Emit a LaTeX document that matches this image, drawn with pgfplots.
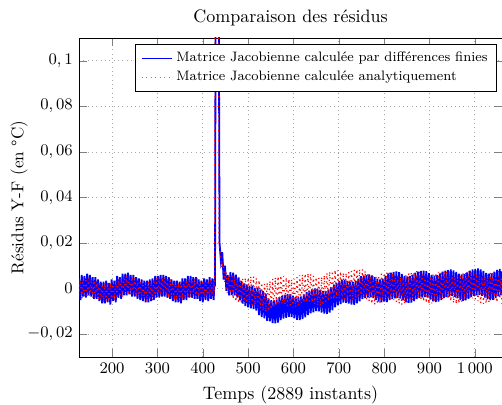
\documentclass[border=0pt]{standalone}
\usepackage{pgfplots}
\pgfplotsset{compat=1.18}

\begin{document}
\begin{tikzpicture}
\begin{axis}[
    name=ax,
    scale only axis,
    width=235pt, height=177.2pt,
    xmin=127, xmax=1060,
    ymin=-0.03, ymax=0.11,
    xtick={200,300,...,1000},
    ytick={-0.02,0,0.02,0.04,0.06,0.08,0.1},
    scaled x ticks=false, scaled y ticks=false,
    /pgf/number format/fixed,
    /pgf/number format/dec sep={,},
    /pgf/number format/1000 sep={\,},
    tick label style={font=\small},
    grid=major,
    major grid style={dotted, gray!70},
    title={Comparaison des résidus},
    title style={yshift=-3pt},
    xlabel={Temps (2889 instants)},
    ylabel={Résidus Y-F (en °C)},
    ylabel style={yshift=-7pt, font=\fontsize{9.5}{11}\selectfont},
    legend style={at={(0.988,0.98)}, anchor=north east,
        font=\fontsize{7.6}{9.2}\selectfont, draw=black, fill=white},
    legend cell align=left,
]
\addlegendimage{blue, line width=0.5pt}
\addlegendentry{Matrice Jacobienne calculée par différences finies}
\addlegendimage{red!70, dotted, line width=0.5pt}
\addlegendentry{Matrice Jacobienne calculée analytiquement}
% residus, jacobienne par differences finies
\addplot[blue, line width=1pt, forget plot] coordinates {
(127,.0045)(130,-.005)(133,.006)(136,-.0035)(139,.0055)(142,-.004)(145,.0065)(148,-.003)
(151,.006)(154,-.0035)(157,.005)(160,-.0045)(163,.005)(166,-.0045)(169,.004)(172,-.0055)
(175,.003)(178,-.0065)(181,.003)(184,-.0065)(187,.0035)(190,-.006)(193,.0025)(196,-.007)
(199,.004)(202,-.0055)(205,.0035)(208,-.006)(211,.0055)(214,-.004)(217,.005)(220,-.0045)
(223,.0065)(226,-.003)(229,.0065)(232,-.003)(235,.007)(238,-.0025)(241,.006)(244,-.0035)
(247,.006)(250,-.0035)(253,.005)(256,-.0045)(259,.0045)(262,-.005)(265,.004)(268,-.0055)
(271,.0035)(274,-.006)(277,.0035)(280,-.006)(283,.004)(286,-.0055)(289,.0045)(292,-.005)
(295,.0055)(298,-.004)(301,.0055)(304,-.004)(307,.006)(310,-.0035)(313,.006)(316,-.0035)
(319,.0055)(322,-.004)(325,.005)(328,-.0045)(331,.004)(334,-.0055)(337,.0035)(340,-.006)
(343,.0035)(346,-.006)(349,.003)(352,-.0065)(355,.0045)(358,-.005)(361,.0045)(364,-.005)
(367,.0055)(370,-.004)(373,.0055)(376,-.004)(379,.005)(382,-.0045)(385,.005)(388,-.0045)
(391,.004)(394,-.0055)(397,.0035)(400,-.006)(403,.0045)(406,-.005)(409,.004)(412,-.0055)
(415,.005)(418,-.0045)(421,.0045)(424,-.005)(426,.004)(427,.001)(431,.4)(437,.02)
(440,.012)(443,.016)(446,.004)(449,.010)(452,-.001)(455,.006)(458,-.003)
(461,.0072)(464,-.0028)(467,.007)(470,-.003)(473,.0061)(476,-.0039)(479,.0049)(482,-.0051)
(485,.0034)(488,-.0066)(491,.0023)(494,-.0077)(497,.0018)(500,-.0082)(503,.0013)(506,-.0087)
(509,.001)(512,-.009)(515,.0003)(518,-.0097)(521,.0004)(524,-.0116)(527,-.0005)(530,-.0125)
(533,-.0011)(536,-.0131)(539,-.0022)(542,-.0142)(545,-.0044)(548,-.0144)(551,-.0051)(554,-.0151)
(557,-.0052)(560,-.0152)(563,-.0049)(566,-.0149)(569,-.0038)(572,-.0138)(575,-.0032)(578,-.0132)
(581,-.0028)(584,-.0128)(587,-.0024)(590,-.0124)(593,-.0025)(596,-.0125)(599,-.0031)(602,-.0131)
(605,-.0037)(608,-.0137)(611,-.0038)(614,-.0138)(617,-.0034)(620,-.0134)(623,-.0026)(626,-.0126)
(629,-.0016)(632,-.0116)(635,-.0009)(638,-.0109)(641,-.0004)(644,-.0104)(647,.0001)(650,-.0099)
(653,0)(656,-.01)(659,-.0005)(662,-.0105)(665,-.001)(668,-.011)(671,-.0011)(674,-.0111)
(677,-.0005)(680,-.0105)(683,.0005)(686,-.0095)(689,.0018)(692,-.0082)(695,.0026)(698,-.0074)
(701,.0032)(704,-.0068)(707,.0039)(710,-.0061)(713,.0038)(716,-.0062)(719,.0034)(722,-.0066)
(725,.003)(728,-.007)(731,.0029)(734,-.0071)(737,.0035)(740,-.0065)(743,.0044)(746,-.0056)
(749,.0054)(752,-.0046)(755,.0058)(758,-.0042)(761,.006)(764,-.004)(767,.0062)(770,-.0038)
(773,.0058)(776,-.0042)(779,.005)(782,-.005)(785,.0043)(788,-.0057)(791,.004)(794,-.006)
(797,.0043)(800,-.0057)(803,.0057)(806,-.0059)(809,.0066)(812,-.005)(815,.007)(818,-.0046)
(821,.0073)(824,-.0043)(827,.0075)(830,-.0041)(833,.0072)(836,-.0044)(839,.0064)(842,-.0052)
(845,.0056)(848,-.006)(851,.0053)(854,-.0063)(857,.0055)(860,-.0061)(863,.0061)(866,-.0055)
(869,.007)(872,-.0046)(875,.0074)(878,-.0042)(881,.0077)(884,-.0039)(887,.0079)(890,-.0037)
(893,.0076)(896,-.004)(899,.0068)(902,-.0048)(905,.006)(908,-.0056)(911,.0057)(914,-.0059)
(917,.0059)(920,-.0057)(923,.0066)(926,-.005)(929,.0074)(932,-.0042)(935,.0079)(938,-.0037)
(941,.0081)(944,-.0035)(947,.0084)(950,-.0032)(953,.008)(956,-.0036)(959,.0073)(962,-.0043)
(965,.0065)(968,-.0051)(971,.0062)(974,-.0054)(977,.0064)(980,-.0052)(983,.0071)(986,-.0045)
(989,.0079)(992,-.0037)(995,.0084)(998,-.0032)(1001,.0086)(1004,-.003)(1007,.0088)(1010,-.0028)
(1013,.0084)(1016,-.0032)(1019,.0077)(1022,-.0039)(1025,.0069)(1028,-.0047)(1031,.0065)(1034,-.0051)
(1037,.0067)(1040,-.0049)(1043,.0074)(1046,-.0042)(1049,.0082)(1052,-.0034)(1055,.0086)(1058,-.003)
(1060,.0075)
};
% residus, jacobienne analytique
\addplot[red, dotted, line width=0.7pt, forget plot] coordinates {
(127,-.001)(130,.003)(133,-.005)(136,.004)(139,-.004)(142,.0045)(145,-.0035)(148,.0045)(151,-.0035)
(154,.004)(157,-.004)(160,.0035)(163,-.0045)(166,.0035)(169,-.0045)(172,.003)(175,-.005)
(178,.002)(181,-.006)(184,.0025)(187,-.0055)(190,.0025)(193,-.0055)(196,.0025)(199,-.0055)
(202,.003)(205,-.005)(208,.0035)(211,-.0045)(214,.0045)(217,-.0035)(220,.0045)(223,-.0035)
(226,.0055)(229,-.0025)(232,.0055)(235,-.0025)(238,.0055)(241,-.0025)(244,.005)(247,-.003)
(250,.0045)(253,-.0035)(256,.004)(259,-.004)(262,.0035)(265,-.0045)(268,.0035)(271,-.0045)
(274,.0025)(277,-.0055)(280,.003)(283,-.005)(286,.003)(289,-.005)(292,.004)(295,-.004)
(298,.0045)(301,-.0035)(304,.005)(307,-.003)(310,.005)(313,-.003)(316,.005)(319,-.003)
(322,.004)(325,-.004)(328,.0045)(331,-.0035)(334,.003)(337,-.005)(340,.003)(343,-.005)
(346,.0025)(349,-.0055)(352,.003)(355,-.005)(358,.0035)(361,-.0045)(364,.004)(367,-.004)
(370,.0045)(373,-.0035)(376,.005)(379,-.003)(382,.004)(385,-.004)(388,.0045)(391,-.0035)
(394,.003)(397,-.005)(400,.0035)(403,-.0045)(406,.0035)(409,-.0045)(412,.0035)(415,-.0045)
(418,.004)(421,-.004)(424,.004)(425,-.003)(426,.002)(430,.4)(436,.02)
(439,.015)(442,.009)(445,.012)(448,.003)(451,.008)(454,-.002)(457,.006)(460,-.003)
(464,.0065)(467,-.0045)(470,.0053)(473,-.0057)(476,.0046)(479,-.0064)(482,.0043)(485,-.0067)
(488,.0044)(491,-.0066)(494,.0047)(497,-.0063)(500,.0047)(503,-.0063)(506,.0053)(509,-.0071)
(512,.0053)(515,-.0071)(518,.0046)(521,-.0078)(524,.0036)(527,-.0088)(530,.0025)(533,-.0099)
(536,.0021)(539,-.0103)(542,.0025)(545,-.0099)(548,.0033)(551,-.0091)(554,.0043)(557,-.0081)
(560,.0049)(563,-.0075)(566,.0053)(569,-.0071)(572,.0057)(575,-.0067)(578,.0055)(581,-.0069)
(584,.0048)(587,-.0076)(590,.0042)(593,-.0082)(596,.004)(599,-.0084)(602,.0043)(605,-.0081)
(608,.005)(611,-.0074)(614,.0058)(617,-.0066)(620,.0062)(623,-.0062)(626,.0065)(629,-.0059)
(632,.0067)(635,-.0057)(638,.0064)(641,-.006)(644,.0056)(647,-.0068)(650,.005)(653,-.0074)
(656,.0047)(659,-.0077)(662,.0051)(665,-.0073)(668,.0058)(671,-.0066)(674,.0068)(677,-.0056)
(680,.0074)(683,-.005)(686,.0077)(689,-.0047)(692,.0081)(695,-.0043)(698,.008)(701,-.0044)
(704,.0075)(707,-.0049)(710,.0069)(713,-.0055)(716,.0068)(719,-.0056)(722,.0072)(725,-.0052)
(728,.0076)(731,-.0048)(734,.0082)(737,-.0042)(740,.0084)(743,-.004)(746,.0084)(749,-.004)
(752,.0084)(755,-.004)(758,.0078)(761,-.0046)(764,.0068)(767,-.0056)(770,.0058)(773,-.0066)
(776,.0053)(779,-.0071)(782,.0055)(785,-.0069)(788,.0058)(791,-.0062)(794,.0065)(797,-.0055)
(800,.0068)(803,-.0052)(806,.007)(809,-.005)(812,.0073)(815,-.0047)(818,.0069)(821,-.0051)
(824,.0061)(827,-.0059)(830,.0054)(833,-.0066)(836,.005)(839,-.007)(842,.0053)(845,-.0067)
(848,.0059)(851,-.0061)(854,.0067)(857,-.0053)(860,.0071)(863,-.0049)(866,.0073)(869,-.0047)
(872,.0076)(875,-.0044)(878,.0072)(881,-.0048)(884,.0064)(887,-.0056)(890,.0057)(893,-.0063)
(896,.0053)(899,-.0067)(902,.0055)(905,-.0065)(908,.0061)(911,-.0059)(914,.0069)(917,-.0051)
(920,.0073)(923,-.0047)(926,.0075)(929,-.0045)(932,.0077)(935,-.0043)(938,.0073)(941,-.0047)
(944,.0065)(947,-.0055)(950,.0057)(953,-.0063)(956,.0053)(959,-.0067)(962,.0055)(965,-.0065)
(968,.0061)(971,-.0059)(974,.0069)(977,-.0051)(980,.0073)(983,-.0047)(986,.0075)(989,-.0045)
(992,.0077)(995,-.0043)(998,.0073)(1001,-.0047)(1004,.0065)(1007,-.0055)(1010,.0057)(1013,-.0063)
(1016,.0053)(1019,-.0067)(1022,.0055)(1025,-.0065)(1028,.0061)(1031,-.0059)(1034,.0069)(1037,-.0051)
(1040,.0073)(1043,-.0047)(1046,.006)(1049,-.006)(1052,.0077)(1055,-.0043)(1058,.0045)(1060,-.0075)
};
\end{axis}
\pgfresetboundingbox
\useasboundingbox ([xshift=-43.9pt,yshift=-26.7pt]ax.south west)
    rectangle ([yshift=21.1pt]ax.north east);
\end{tikzpicture}
\end{document}
